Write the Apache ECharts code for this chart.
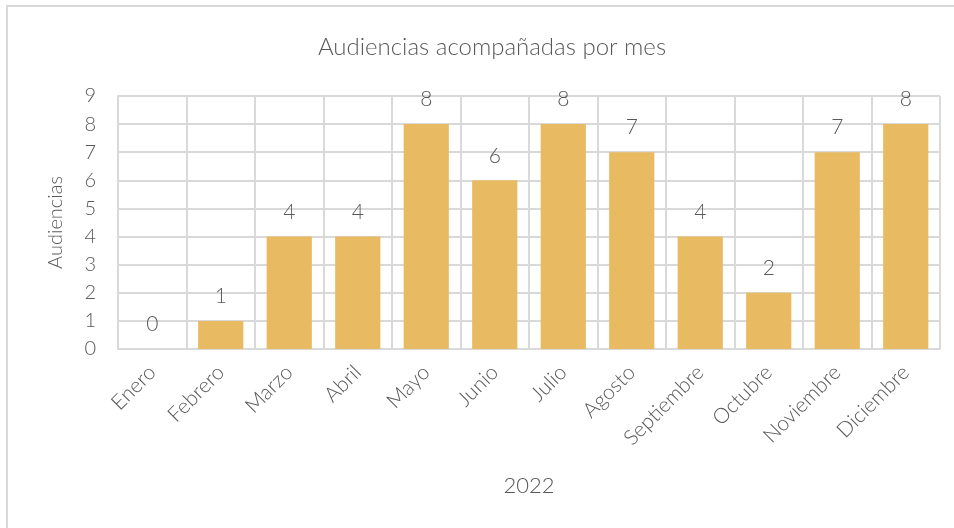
<!DOCTYPE html>
<html>
<head>
<meta charset="utf-8">
<script src="https://cdn.jsdelivr.net/npm/echarts@6/dist/echarts.min.js"></script>
<style>
  html, body { margin: 0; padding: 0; background: #fff; }
  #chart { width: 954px; height: 528px; }
</style>
</head>
<body>
<div id="chart"></div>
<script>
// datos
var meses = ["Enero", "Febrero", "Marzo", "Abril", "Mayo", "Junio", "Julio",
  "Agosto", "Septiembre", "Octubre", "Noviembre", "Diciembre"];
var audiencias = [0, 1, 4, 4, 8, 6, 8, 7, 4, 2, 7, 8];

var gris = "#595959";
var linea = "#d9d9d9";
var fuente = "Lato";

var chart = echarts.init(document.getElementById("chart"));

var option = {
  animation: false,
  textStyle: { fontFamily: fuente, color: gris },
  graphic: [
    {
      type: "rect",
      shape: { x: 7, y: 6, width: 980, height: 560 },
      style: { fill: "none", stroke: linea, lineWidth: 2 }
    }
  ],
  title: {
    text: "Audiencias acompañadas por mes",
    left: 487,
    textAlign: "center",
    top: 30,
    textStyle: { color: gris, fontSize: 24, fontWeight: 300, fontFamily: fuente }
  },
  grid: {
    left: 118,
    right: 14,
    top: 96,
    bottom: 179
  },
  xAxis: {
    type: "category",
    data: meses,
    name: "2022",
    nameLocation: "middle",
    nameGap: 126,
    nameTextStyle: { color: gris, fontSize: 22, fontWeight: 300 },
    axisLine: { lineStyle: { color: linea, width: 2 } },
    axisTick: { show: false },
    splitLine: { show: true, lineStyle: { color: linea, width: 2 } },
    axisLabel: {
      interval: 0,
      rotate: 45,
      margin: 20,
      color: gris,
      fontSize: 21,
      fontWeight: 300
    }
  },
  yAxis: {
    type: "value",
    min: 0,
    max: 9,
    interval: 1,
    name: "Audiencias",
    nameLocation: "middle",
    nameGap: 52,
    nameTextStyle: { color: gris, fontSize: 20, fontWeight: 300 },
    axisLine: { show: true, lineStyle: { color: linea, width: 2 } },
    axisTick: { show: false },
    splitLine: { lineStyle: { color: linea, width: 2 } },
    axisLabel: { color: gris, fontSize: 20, fontWeight: 300, margin: 22 }
  },
  series: [
    {
      name: "Audiencias",
      type: "bar",
      data: audiencias,
      barCategoryGap: "34%",
      itemStyle: { color: "#e8ba62" },
      label: {
        show: true,
        position: "top",
        distance: 14,
        color: gris,
        fontSize: 21,
        fontWeight: 300
      }
    }
  ]
};

chart.setOption(option);
</script>
</body>
</html>
